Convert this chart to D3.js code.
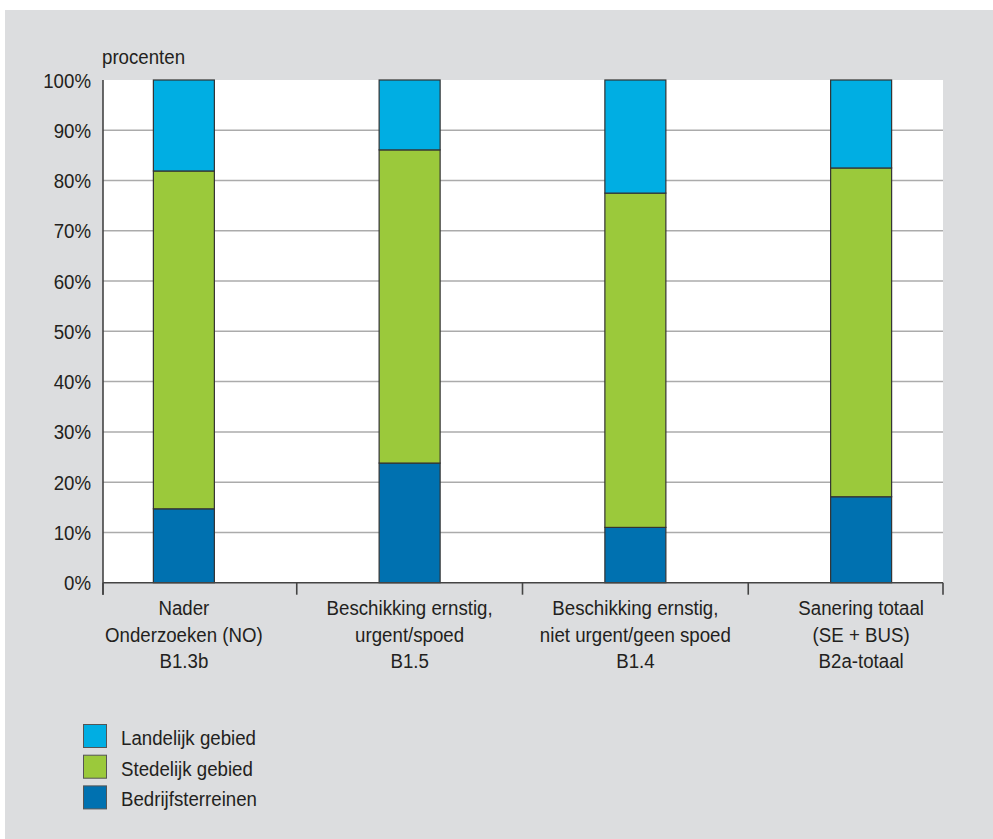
<!DOCTYPE html>
<html><head><meta charset="utf-8">
<script src="https://cdn.jsdelivr.net/npm/d3@7"></script>
<style>body{margin:0;background:#fff}svg{display:block}text{font-family:"Liberation Sans",Arial,Helvetica,sans-serif;fill:#231f20}</style>
</head><body><svg id="c" width="993" height="839"></svg>
<script>
const categories = [
  ["Nader", "Onderzoeken (NO)", "B1.3b"],
  ["Beschikking ernstig,", "urgent/spoed", "B1.5"],
  ["Beschikking ernstig,", "niet urgent/geen spoed", "B1.4"],
  ["Sanering totaal", "(SE + BUS)", "B2a-totaal"]
];
const seriesNames = ["Bedrijfsterreinen", "Stedelijk gebied", "Landelijk gebied"];
const bedrijfsterreinen = [14.7, 23.8, 11.0, 17.1];
const stedelijk = [67.2, 62.3, 66.5, 65.4];
const landelijk = [18.1, 13.9, 22.5, 17.5];
const yTicks = [0, 10, 20, 30, 40, 50, 60, 70, 80, 90, 100];
const colors = ["#0071b0", "#9bc93b", "#00aee3"];

const svg = d3.select("#c");
svg.append("rect").attr("x", 5).attr("y", 10).attr("width", 988).attr("height", 829).attr("fill", "#dcdddf");

const L = 103, R = 943, T = 80, B = 582.7;
const keys = categories.map((c, i) => "c" + i);
const x = d3.scaleBand().domain(keys).range([71, 974]);
const y = d3.scaleLinear().domain([0, 100]).range([B, T]);
const barW = 61;

function sText(g, str, px, py, anchor) {
  const t = g.append("g").attr("transform", `translate(${px},${py}) scale(0.89,1)`)
    .append("text").attr("text-anchor", anchor || "start").attr("font-size", 21).text(str);
  return t;
}

svg.append("rect").attr("x", L).attr("y", y(100)).attr("width", R - L).attr("height", B - y(100)).attr("fill", "#fff");

// grid
svg.append("g").selectAll("line").data(yTicks.filter(d => d > 0 && d < 100)).join("line")
  .attr("x1", L).attr("x2", R).attr("y1", d => y(d)).attr("y2", d => y(d))
  .attr("stroke", "#ababab").attr("stroke-width", 1.5);

// stacked bars
const rows = keys.map((k, i) => ({ key: k, b: bedrijfsterreinen[i], s: stedelijk[i], l: landelijk[i] }));
const stack = d3.stack().keys(["b", "s", "l"])(rows);
svg.append("g").selectAll("g").data(stack).join("g").attr("fill", (d, i) => colors[i])
  .selectAll("rect").data(d => d).join("rect")
  .attr("x", d => x(d.data.key) + (x.bandwidth() - barW) / 2)
  .attr("width", barW)
  .attr("y", d => y(d[1]))
  .attr("height", d => y(d[0]) - y(d[1]))
  .attr("stroke", "#333").attr("stroke-width", 1.2);

// axes
svg.append("line").attr("x1", L).attr("x2", L).attr("y1", T).attr("y2", B + 12).attr("stroke", "#444").attr("stroke-width", 1.6);
svg.append("line").attr("x1", L).attr("x2", R).attr("y1", B).attr("y2", B).attr("stroke", "#444").attr("stroke-width", 1.6);
const tickXs = [L].concat(keys.slice(1).map(k => x(k))).concat([R]);
svg.append("g").selectAll("line").data(tickXs).join("line")
  .attr("x1", d => d).attr("x2", d => d).attr("y1", B).attr("y2", B + 12)
  .attr("stroke", "#444").attr("stroke-width", 1.6);

// y labels
const yl = svg.append("g");
yTicks.forEach(d => sText(yl, d + "%", 91, y(d) + 7.5, "end"));
sText(svg, "procenten", 102, 63.5);

// category labels
const cl = svg.append("g");
categories.forEach((lines, i) => {
  const cx = x(keys[i]) + x.bandwidth() / 2;
  lines.forEach((ln, j) => sText(cl, ln, cx, 615 + j * 26.7, "middle"));
});

// legend
const legendOrder = [2, 1, 0];
const lg = svg.append("g");
legendOrder.forEach((si, j) => {
  const ly = 724.5 + j * 30.7;
  lg.append("rect").attr("x", 83.5).attr("y", ly).attr("width", 23).attr("height", 23)
    .attr("fill", colors[si]).attr("stroke", "#555").attr("stroke-width", 1);
  sText(lg, seriesNames[si], 121, ly + 20.5);
});
</script></body></html>
